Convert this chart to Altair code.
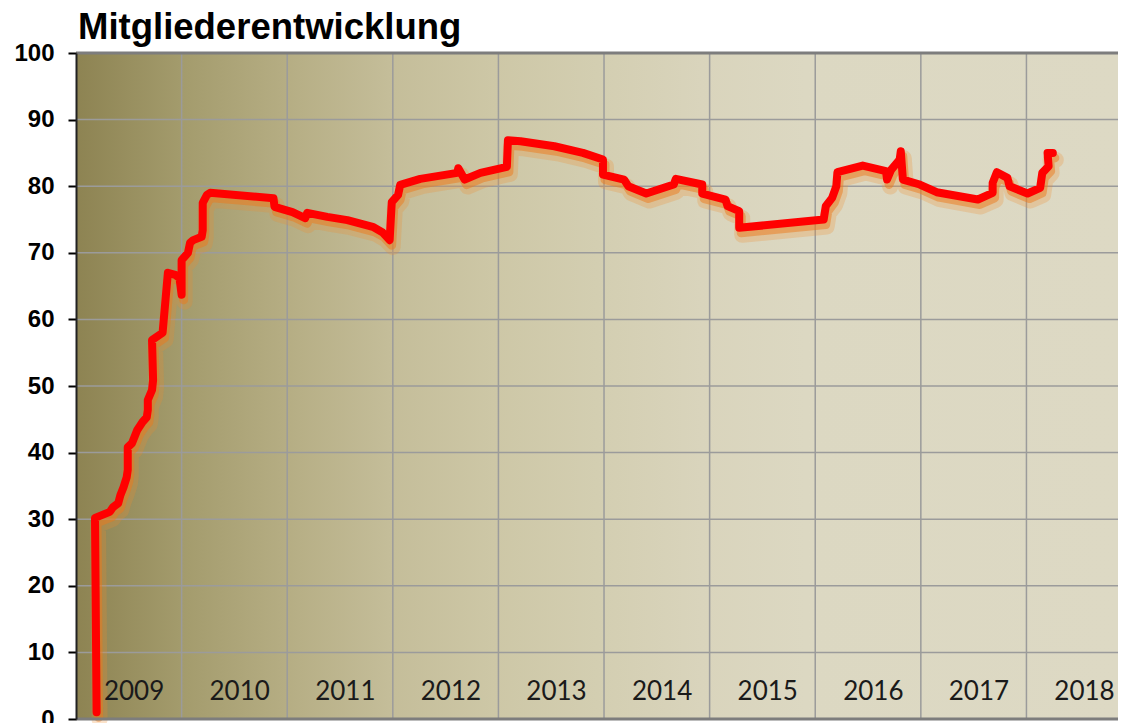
import altair as alt
import pandas as pd

# ---- data ----
years = [2009.195, 2009.18, 2009.32, 2009.35, 2009.40, 2009.42, 2009.45, 2009.48, 2009.49, 2009.49,
         2009.53, 2009.58, 2009.63, 2009.67, 2009.68, 2009.68, 2009.72, 2009.73, 2009.72, 2009.82,
         2009.87, 2009.94, 2009.98, 2010.0, 2010.0, 2010.06, 2010.08, 2010.11, 2010.19, 2010.20,
         2010.20, 2010.24, 2010.27, 2010.87, 2010.88, 2011.05, 2011.17, 2011.19, 2011.38, 2011.57,
         2011.81, 2011.90, 2011.97, 2011.99, 2012.05, 2012.07, 2012.26, 2012.61, 2012.62, 2012.68,
         2012.83, 2013.08, 2013.09, 2013.21, 2013.53, 2013.80, 2013.99, 2013.99, 2014.19, 2014.23,
         2014.40, 2014.66, 2014.68, 2014.93, 2014.93, 2015.15, 2015.17, 2015.28, 2015.28, 2016.08,
         2016.10, 2016.16, 2016.20, 2016.21, 2016.45, 2016.67, 2016.68, 2016.72, 2016.80, 2016.81,
         2016.83, 2016.99, 2017.15, 2017.54, 2017.68, 2017.68, 2017.72, 2017.82, 2017.84, 2018.01,
         2018.13, 2018.15, 2018.21, 2018.20, 2018.25]
members = [1, 30.2, 31.1, 31.8, 32.4, 33.6, 34.8, 36.3, 37.4, 40.8,
           41.4, 43.4, 44.6, 45.3, 46.4, 47.9, 49.4, 50.9, 56.9, 58,
           67, 66.7, 66.2, 63.7, 68.9, 70, 71.5, 71.9, 72.4, 73.4,
           77.5, 78.7, 79, 78.2, 76.9, 76.1, 75.2, 76, 75.4, 74.9,
           73.9, 73.1, 71.9, 77.6, 78.7, 80.2, 81.1, 82, 82.7, 81,
           82, 82.9, 86.9, 86.75, 86, 85, 84, 81.75, 81, 80,
           78.9, 80.25, 81.1, 80.25, 78.9, 78, 77, 76.25, 73.75, 75,
           77, 78.25, 80, 82.1, 83.1, 82.25, 81, 82.5, 84, 85.25,
           81, 80.25, 79.1, 78, 79, 80.5, 82.1, 81.25, 80, 78.9,
           79.75, 82, 83, 85, 85]
assert len(years) == len(members)

year_labels = ["2009", "2010", "2011", "2012", "2013", "2014", "2015", "2016", "2017", "2018"]
y_ticks = [0, 10, 20, 30, 40, 50, 60, 70, 80, 90, 100]
grid_years = [2010, 2011, 2012, 2013, 2014, 2015, 2016, 2017, 2018]

W, H = 1042, 666
xs = alt.Scale(domain=[2009, 2018.867], nice=False, zero=False)
ys = alt.Scale(domain=[0, 100], nice=False)

y_axis = alt.Axis(values=y_ticks, title=None, grid=False, tickSize=8, tickWidth=2,
                  tickColor="#000000", domainColor="#222222", domainWidth=2,
                  labelFont="Liberation Sans", labelFontWeight="bold", labelFontSize=24,
                  labelColor="#000000", labelPadding=14, zindex=1)


def X(field):
    return alt.X(field, type="quantitative", scale=xs, axis=None)


def Y(field):
    return alt.Y(field, type="quantitative", scale=ys, axis=y_axis)


df = pd.DataFrame({"t": years, "v": members, "i": list(range(len(years)))})
labels = pd.DataFrame({"year": year_labels,
                       "x": [int(y) + 0.55 for y in year_labels],
                       "y": [4] * len(year_labels)})
hgrid = pd.DataFrame({"v": [v for v in y_ticks if 0 < v < 100]})
border = pd.DataFrame({"v": [0, 100]})
vgrid = pd.DataFrame({"t": grid_years})

gradient = alt.LinearGradient(
    gradient="linear", x1=0, x2=1, y1=0, y2=0,
    stops=[
        alt.GradientStop(offset=0.0, color="#8d8352"),
        alt.GradientStop(offset=0.1, color="#a39b6c"),
        alt.GradientStop(offset=0.2, color="#b5ad83"),
        alt.GradientStop(offset=0.3, color="#c4bd99"),
        alt.GradientStop(offset=0.4, color="#cdc7a6"),
        alt.GradientStop(offset=0.5, color="#d3ceb1"),
        alt.GradientStop(offset=0.6, color="#d9d4bc"),
        alt.GradientStop(offset=0.7, color="#dcd8c2"),
        alt.GradientStop(offset=1.0, color="#ddd9c4"),
    ],
)

bg = alt.Chart(pd.DataFrame({"v": [50]})).mark_rect(color=gradient).encode(
    x=alt.value(0), x2=alt.value("width"), y=alt.value(0), y2=alt.value("height")
)

hg = alt.Chart(hgrid).mark_rule(color="#9b9b9b", strokeWidth=1.5).encode(y=Y("v"))
vg = alt.Chart(vgrid).mark_rule(color="#9b9b9b", strokeWidth=1.5).encode(x=X("t"))
bd = alt.Chart(border).mark_rule(color="#7d7d7d", strokeWidth=3).encode(y=Y("v"))

glow1 = alt.Chart(df).mark_line(color="#f08a2a", strokeWidth=16, opacity=0.25, xOffset=3, yOffset=7,
                                strokeCap="round", strokeJoin="round").encode(
    x=X("t"), y=Y("v"), order=alt.Order("i:Q"))
glow2 = alt.Chart(df).mark_line(color="#ec7a1c", strokeWidth=9, opacity=0.5, xOffset=2, yOffset=5,
                                strokeCap="round", strokeJoin="round").encode(
    x=X("t"), y=Y("v"), order=alt.Order("i:Q"))
line = alt.Chart(df).mark_line(color="#ff0000", strokeWidth=8,
                               strokeCap="round", strokeJoin="round").encode(
    x=X("t"), y=Y("v"), order=alt.Order("i:Q"))

txt = alt.Chart(labels).mark_text(font="Lato", fontSize=26, color="#1a1a1a",
                                  align="center", baseline="middle").encode(
    x=X("x"), y=Y("y"), text="year:N")

chart = alt.layer(bg, hg, vg, glow1, glow2, line, txt, bd).properties(
    width=W, height=H,
    title=alt.TitleParams("Mitgliederentwicklung", anchor="start", frame="group",
                          font="Liberation Sans", fontSize=36.5, fontWeight="bold",
                          color="#000000", offset=4, dx=2, dy=9),
    padding={"left": 68, "top": 45, "right": 0, "bottom": 4},
    autosize=alt.AutoSizeParams(type="none"),
).configure_view(stroke=None)

chart.save("out.html", embed_options={"renderer": "svg", "actions": False})
